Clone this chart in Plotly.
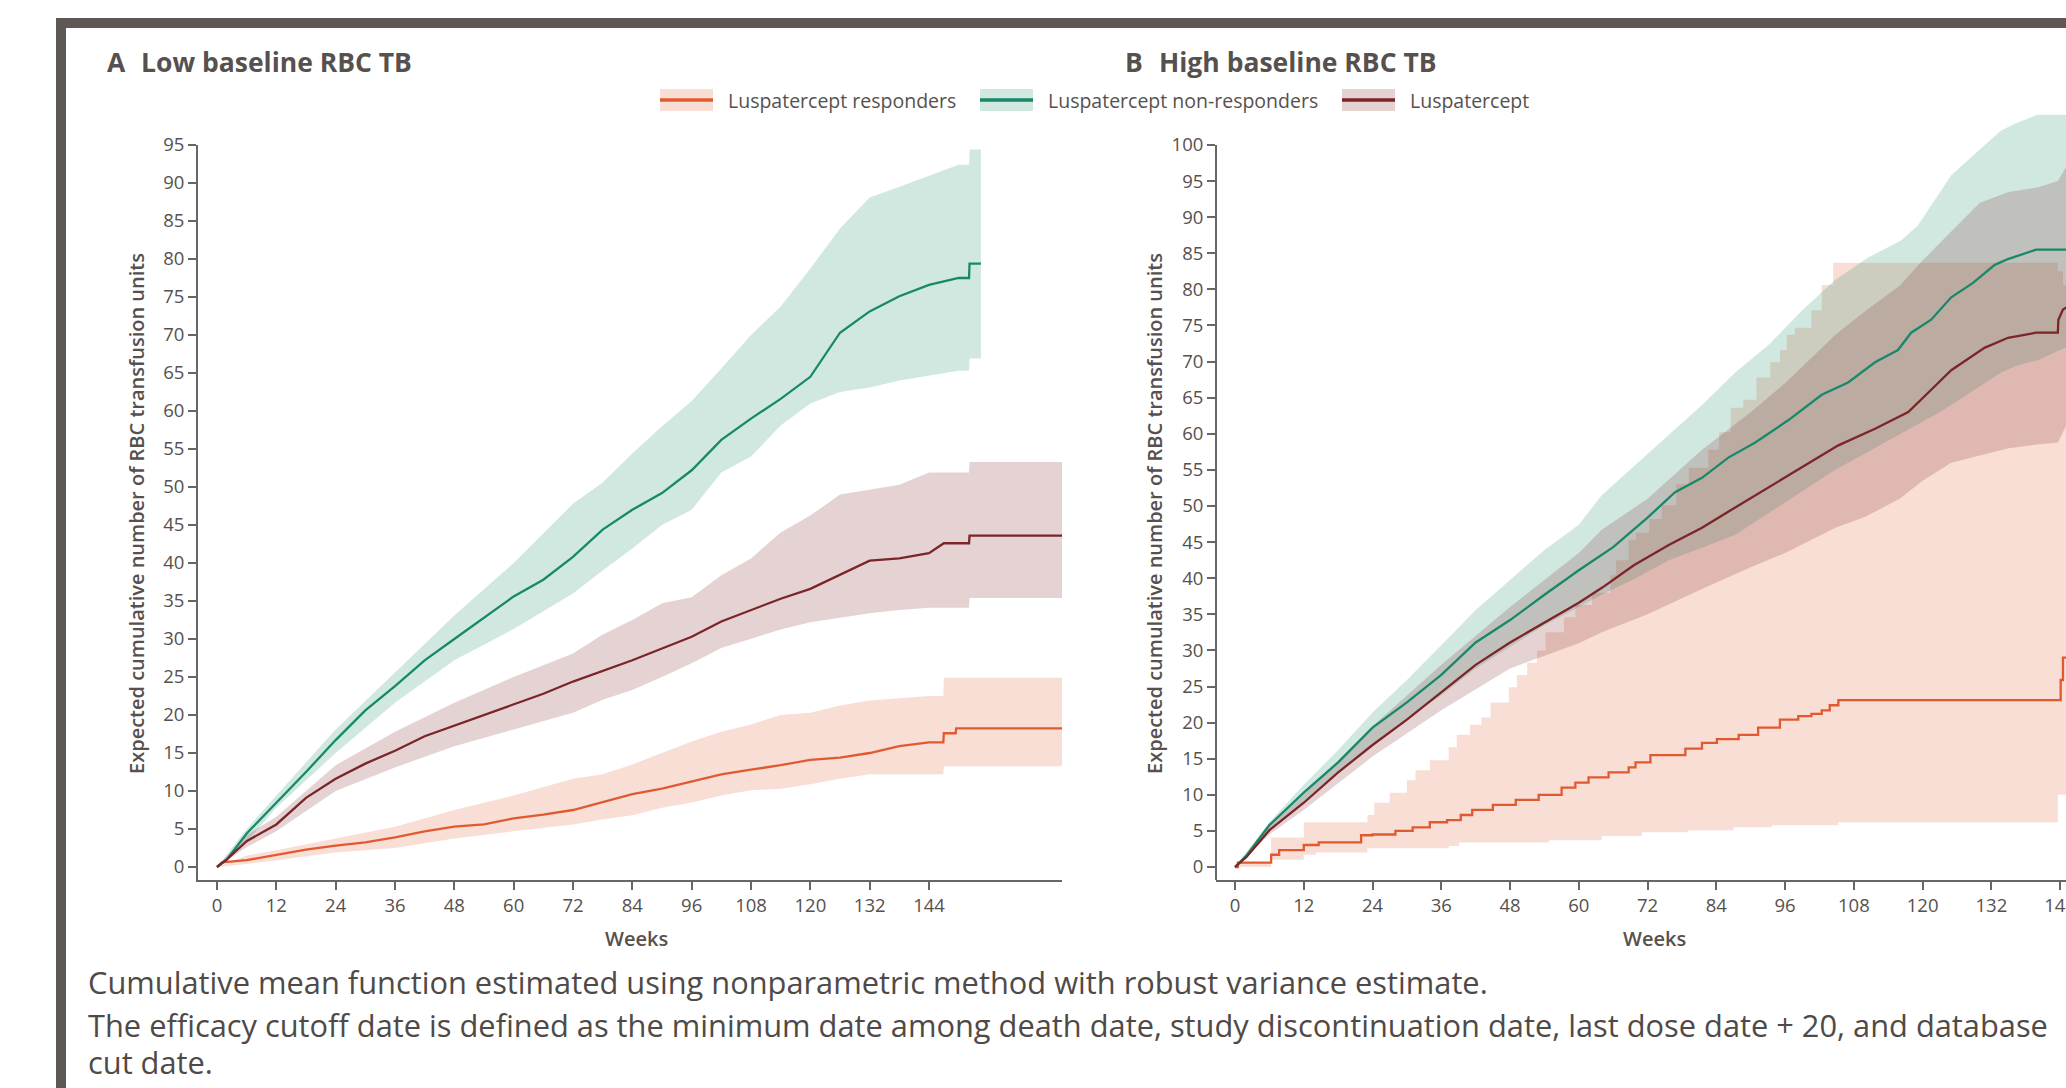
import plotly.graph_objects as go

W, H = 2066, 1088

# ---------------- Panel A: Low baseline RBC TB ----------------
a_nr_weeks = [0, 2, 6, 12, 18, 24, 30, 36, 42, 48, 54, 60, 66, 72, 78, 84, 90, 96, 102, 108, 114, 120, 126, 132, 138, 144, 150, 152.1, 152.2, 154.5]
a_nr_mean = [0, 1.0, 4.4, 8.4, 12.5, 16.7, 20.6, 23.8, 27.2, 30.0, 32.8, 35.6, 37.8, 40.8, 44.4, 47.0, 49.2, 52.2, 56.2, 59.0, 61.6, 64.5, 70.3, 73.1, 75.1, 76.6, 77.5, 77.5, 79.4, 79.4]
a_nr_band_weeks = [0, 6, 12, 24, 36, 48, 60, 72, 78, 84, 90, 96, 102, 108, 114, 120, 126, 132, 138, 144, 150, 152.1, 152.2, 154.5]
a_nr_low = [0, 3.3, 7.8, 15.0, 21.6, 27.2, 31.3, 36.0, 39.0, 41.9, 45.0, 47.0, 51.9, 54.0, 58.1, 61.0, 62.5, 63.1, 64.0, 64.7, 65.3, 65.3, 66.9, 66.9]
a_nr_up = [0, 5.0, 9.4, 18.1, 25.6, 33.1, 40.0, 47.8, 50.6, 54.4, 58.0, 61.3, 65.6, 70.0, 73.75, 78.75, 84.0, 88.1, 89.5, 91.0, 92.4, 92.4, 94.4, 94.4]

a_lu_weeks = [0, 2, 6, 12, 18, 24, 30, 36, 42, 48, 54, 60, 66, 72, 78, 84, 90, 96, 102, 108, 114, 120, 126, 132, 138, 144, 147, 152.1, 152.2, 171]
a_lu_mean = [0, 1.0, 3.4, 5.6, 9.1, 11.6, 13.6, 15.3, 17.2, 18.6, 20.0, 21.3, 22.8, 24.4, 25.75, 27.2, 28.75, 30.3, 32.3, 33.75, 35.3, 36.6, 38.4, 40.3, 40.6, 41.3, 42.6, 42.6, 43.6, 43.6]
a_lu_band_weeks = [0, 6, 12, 24, 36, 48, 60, 72, 78, 84, 90, 96, 102, 108, 114, 120, 126, 132, 138, 144, 152.1, 152.2, 171]
a_lu_up = [0, 4.2, 6.6, 13.4, 17.8, 21.6, 25.0, 28.1, 30.6, 32.5, 34.7, 35.5, 38.4, 40.6, 44.0, 46.25, 49.0, 49.7, 50.3, 51.9, 51.9, 53.3, 53.3]
a_lu_low = [0, 2.6, 4.7, 10.0, 13.1, 15.9, 18.1, 20.3, 22.0, 23.3, 25.0, 26.8, 28.8, 30.0, 31.25, 32.2, 32.8, 33.4, 33.8, 34.1, 34.1, 35.4, 35.4]

a_re_weeks = [0, 1, 6, 12, 18, 24, 30, 36, 42, 48, 54, 60, 66, 72, 78, 84, 90, 96, 102, 108, 114, 120, 126, 132, 138, 144, 146.9, 147, 149.4, 149.5, 171]
a_re_mean = [0, 0.6, 0.9, 1.6, 2.3, 2.8, 3.25, 3.9, 4.7, 5.3, 5.6, 6.4, 6.9, 7.5, 8.6, 9.6, 10.3, 11.3, 12.2, 12.8, 13.4, 14.1, 14.4, 15.0, 15.9, 16.4, 16.4, 17.6, 17.6, 18.25, 18.25]
a_re_band_weeks = [0, 6, 12, 24, 36, 48, 60, 72, 78, 84, 90, 96, 102, 108, 114, 120, 126, 132, 144, 146.9, 147, 171]
a_re_up = [0, 1.5, 2.2, 3.75, 5.3, 7.5, 9.4, 11.6, 12.2, 13.5, 15.0, 16.5, 17.8, 18.75, 20.0, 20.3, 21.25, 21.9, 22.5, 22.5, 24.9, 24.9]
a_re_low = [0, 0.4, 0.9, 1.9, 2.5, 3.75, 4.7, 5.6, 6.25, 6.8, 7.8, 8.5, 9.4, 10.1, 10.3, 10.9, 11.6, 12.2, 12.2, 12.2, 13.25, 13.25]

# ---------------- Panel B: High baseline RBC TB ----------------
b_nr_weeks = [0, 2, 6, 12, 18, 24, 30, 36, 42, 48, 54, 60, 66, 72, 76.8, 81.5, 86.1, 90.8, 96.6, 102.4, 107, 111.7, 115.7, 118, 121.5, 125, 128.8, 132.6, 134.9, 139.8, 145.1]
b_nr_mean = [0, 1.6, 5.8, 10.3, 14.5, 19.3, 22.8, 26.6, 31.1, 34.2, 37.7, 41.1, 44.3, 48.4, 51.9, 53.9, 56.7, 58.8, 61.9, 65.4, 67.1, 69.9, 71.6, 74.0, 75.8, 78.9, 80.9, 83.4, 84.2, 85.5, 85.5]
b_nr_band_weeks = [0, 6, 12, 18, 24, 30, 36, 42, 48, 54, 60, 64, 69.9, 75.7, 81.5, 87.3, 93.1, 99, 104.7, 110.5, 116.3, 119.2, 122.1, 125, 127.9, 130.8, 133.7, 136.6, 140.1, 145.1]
b_nr_up = [0, 6.2, 11.4, 16.2, 21.4, 25.9, 30.7, 35.6, 39.75, 43.9, 47.4, 51.5, 55.7, 59.8, 64.0, 68.5, 72.3, 77.1, 81.3, 84.4, 86.8, 88.9, 92.4, 95.8, 97.9, 100.0, 102.0, 103.1, 104.2, 104.2]
b_nr_low = [0, 5.0, 9.0, 13.0, 17.0, 20.5, 23.8, 27.5, 30.5, 33.5, 36.0, 37.7, 40.0, 42.5, 44.2, 46.0, 49.0, 52.0, 55.0, 57.5, 60.0, 61.3, 62.6, 64.0, 65.5, 67.0, 68.5, 69.5, 70.2, 72.0]

b_lu_weeks = [0, 2, 6, 12, 18, 24, 30, 36, 42, 48, 54, 60, 64.1, 69.6, 75.7, 81.5, 87.3, 93.7, 99.5, 105.3, 111.7, 117.5, 121.5, 125, 130.8, 134.9, 139.8, 143.6, 143.7, 144.5, 145.1]
b_lu_mean = [0, 1.4, 5.1, 8.9, 13.1, 16.9, 20.4, 24.2, 28.0, 31.1, 33.9, 36.6, 38.7, 41.8, 44.6, 47.0, 49.8, 52.9, 55.7, 58.4, 60.7, 63.0, 66.1, 68.8, 71.9, 73.3, 74.0, 74.0, 75.8, 77.2, 77.5]
b_lu_band_weeks = [0, 6, 12, 24, 36, 48, 60, 64, 72, 81.5, 90, 96, 104.8, 110, 116, 120, 125, 130, 135, 140, 143.6, 145.1]
b_lu_up = [0, 5.6, 10.0, 19.5, 28.0, 36.0, 43.5, 46.7, 51.0, 57.8, 63.0, 67.0, 73.7, 77.0, 80.5, 84.0, 88.0, 92.0, 93.5, 94.1, 95.0, 97.0]
b_lu_low = [0, 4.5, 7.9, 15.3, 21.7, 27.5, 31.0, 32.5, 35.0, 38.5, 41.5, 43.5, 47.0, 48.5, 51.0, 53.5, 56.0, 57.0, 58.0, 58.5, 58.8, 61.2]

b_re_weeks = [0, 0.5, 6.3, 7.7, 12, 14.6, 22, 24, 28, 31, 34, 37, 39.4, 41.4, 45, 49, 53, 57, 59.4, 61.7, 65.2, 68.7, 69.9, 72.5, 78.6, 81.5, 84.1, 87.9, 91.3, 95.1, 98.3, 100.6, 102.4, 103.8, 105.3, 144.1, 144.5, 145.1]
b_re_mean = [0, 0.6, 1.7, 2.35, 3.05, 3.4, 4.4, 4.5, 5.0, 5.5, 6.2, 6.5, 7.2, 7.9, 8.6, 9.3, 10.0, 11.0, 11.7, 12.4, 13.1, 13.8, 14.5, 15.5, 16.4, 17.2, 17.7, 18.3, 19.3, 20.4, 20.9, 21.2, 21.7, 22.4, 23.1, 25.9, 29.0, 29.0]
b_re_up_weeks = [0, 0.5, 6.3, 12, 23.1, 24.3, 27, 30, 31.5, 34, 37.3, 38.7, 41, 43, 44.6, 47.8, 49.2, 51, 52.7, 54.2, 57.4, 59.4, 62.3, 65.5, 66.5, 68.7, 70, 72.3, 74.5, 77, 79.2, 82.6, 84.5, 86.5, 88.7, 91, 93.4, 95.1, 96.3, 97.7, 100.6, 102.4, 104.4, 143.6, 144.5, 145.1]
b_re_up = [0, 0.6, 4.1, 6.2, 7.2, 8.9, 10.3, 12.0, 13.4, 14.8, 16.6, 18.3, 19.7, 20.7, 22.8, 24.9, 26.6, 28.3, 30.0, 32.5, 34.6, 36.3, 38.0, 40.4, 42.5, 45.3, 46.3, 48.2, 50.1, 53.0, 55.3, 57.8, 60.2, 63.6, 64.7, 67.8, 69.9, 71.6, 73.7, 74.7, 77.1, 80.6, 83.7, 82.5, 80.6, 80.6]
b_re_low_weeks = [0, 6.3, 12, 14.1, 23.1, 37.3, 39.1, 54.8, 64, 71, 79, 87, 93.7, 105.3, 143.6, 145.1]
b_re_low = [0, 1.0, 1.7, 2.0, 2.6, 2.9, 3.4, 3.7, 4.3, 4.8, 5.1, 5.5, 5.8, 6.2, 10.0, 10.0]

week_ticks = list(range(0, 145, 12))
a_yticks = list(range(0, 96, 5))
b_yticks = list(range(0, 101, 5))

series_names = ["Luspatercept responders", "Luspatercept non-responders", "Luspatercept"]
panel_titles = [("A", "Low baseline RBC TB"), ("B", "High baseline RBC TB")]
y_title = "Expected cumulative number of RBC transfusion units"
x_title = "Weeks"
footer_lines = [
    "Cumulative mean function estimated using nonparametric method with robust variance estimate.",
    "The efficacy cutoff date is defined as the minimum date among death date, study discontinuation date, last dose date + 20, and database",
    "cut date.",
]

# ---------------- styling ----------------
ORANGE, GREEN, BROWN = "#E05A30", "#17896A", "#7B2528"
ORANGE_F = "rgba(225,90,46,0.2)"
GREEN_F = "rgba(27,138,107,0.2)"
BROWN_F = "rgba(123,36,38,0.2)"
TXT = "#56514E"
AX = "#6A6664"
FONT = "Open Sans"
FRAME = "#5E5754"

fig = go.Figure()


def px(x):
    return x / W


def py(y):
    return 1 - y / H


def add_band(xl, lo, xu, up, fill, xa, ya, shape):
    fig.add_trace(go.Scatter(x=xl, y=lo, mode="lines", line=dict(width=0, color=fill, shape=shape),
                             hoverinfo="skip", showlegend=False, xaxis=xa, yaxis=ya))
    fig.add_trace(go.Scatter(x=xu, y=up, mode="lines", line=dict(width=0, color=fill, shape=shape),
                             fill="tonexty", fillcolor=fill, hoverinfo="skip", showlegend=False,
                             xaxis=xa, yaxis=ya))


def add_line(x, y, color, name, xa, ya, shape):
    fig.add_trace(go.Scatter(x=x, y=y, mode="lines", name=name, line=dict(width=2.3, color=color, shape=shape),
                             showlegend=False, xaxis=xa, yaxis=ya))


# Panel A bands & lines
add_band(a_re_band_weeks, a_re_low, a_re_band_weeks, a_re_up, ORANGE_F, "x", "y", "linear")
add_band(a_nr_band_weeks, a_nr_low, a_nr_band_weeks, a_nr_up, GREEN_F, "x", "y", "linear")
add_band(a_lu_band_weeks, a_lu_low, a_lu_band_weeks, a_lu_up, BROWN_F, "x", "y", "linear")
add_line(a_re_weeks, a_re_mean, ORANGE, series_names[0], "x", "y", "linear")
add_line(a_nr_weeks, a_nr_mean, GREEN, series_names[1], "x", "y", "linear")
add_line(a_lu_weeks, a_lu_mean, BROWN, series_names[2], "x", "y", "linear")

# Panel B bands & lines
add_band(b_re_low_weeks, b_re_low, b_re_up_weeks, b_re_up, ORANGE_F, "x2", "y2", "hv")
add_band(b_nr_band_weeks, b_nr_low, b_nr_band_weeks, b_nr_up, GREEN_F, "x2", "y2", "linear")
add_band(b_lu_band_weeks, b_lu_low, b_lu_band_weeks, b_lu_up, BROWN_F, "x2", "y2", "linear")
add_line(b_re_weeks, b_re_mean, ORANGE, series_names[0], "x2", "y2", "hv")
add_line(b_nr_weeks, b_nr_mean, GREEN, series_names[1], "x2", "y2", "linear")
add_line(b_lu_weeks, b_lu_mean, BROWN, series_names[2], "x2", "y2", "linear")

axis_common = dict(showgrid=False, zeroline=False, ticks="outside", ticklen=8, tickwidth=2, tickcolor=AX,
                   linecolor=AX, linewidth=2, tickfont=dict(family=FONT, size=18.5, color=TXT),
                   automargin=False, fixedrange=True)

fig.update_layout(
    width=W, height=H, margin=dict(l=0, r=0, t=0, b=0),
    paper_bgcolor="white", plot_bgcolor="white", showlegend=False,
    font=dict(family=FONT, color=TXT),
    xaxis=dict(domain=[px(198), px(1062)], range=[-3.84, 170.9], tickvals=week_ticks, showline=True,
               anchor="y", **axis_common),
    yaxis=dict(domain=[py(880), py(145)], range=[-1.71, 95], tickvals=a_yticks, showline=True,
               anchor="x", **axis_common),
    xaxis2=dict(domain=[px(1216), 1.0], range=[-3.32, 145.03], tickvals=week_ticks, showline=True,
                anchor="y2", ticklabeloverflow="allow", **axis_common),
    yaxis2=dict(domain=[py(880), py(100)], range=[-1.8, 106.23], tickvals=b_yticks, showline=False,
                anchor="x2", **axis_common),
)

shapes = []
# y-axis line of panel B stops at 100
shapes.append(dict(type="line", xref="x2 domain", yref="y2", x0=0, x1=0, y0=-1.8, y1=100,
                   line=dict(color=AX, width=2)))
# outer frame
shapes.append(dict(type="rect", xref="paper", yref="paper", x0=px(61), x1=1.3, y0=py(23), y1=-0.3,
                   line=dict(color=FRAME, width=10), fillcolor="rgba(0,0,0,0)", layer="above"))
# legend swatches
for (x0, fillc, linec) in [(660, ORANGE_F, ORANGE), (980, GREEN_F, GREEN), (1342, BROWN_F, BROWN)]:
    shapes.append(dict(type="rect", xref="paper", yref="paper", x0=px(x0), x1=px(x0 + 53), y0=py(111), y1=py(89),
                       fillcolor=fillc, line=dict(width=0)))
    shapes.append(dict(type="line", xref="paper", yref="paper", x0=px(x0), x1=px(x0 + 53), y0=py(100), y1=py(100),
                       line=dict(color=linec, width=3.5)))
fig.update_layout(shapes=shapes)

ann = []


def add_text(text, x, y, size, xanchor="left", weight="normal", angle=0, color=TXT):
    ann.append(dict(text=text, x=px(x), y=py(y), xref="paper", yref="paper", xanchor=xanchor, yanchor="middle",
                    showarrow=False, textangle=angle,
                    font=dict(family=FONT, size=size, color=color, weight=weight)))


add_text(panel_titles[0][0], 105, 62, 26.5, weight="bold")
add_text(panel_titles[0][1], 139, 62, 26.5, weight="bold")
add_text(panel_titles[1][0], 1123, 62, 26.5, weight="bold")
add_text(panel_titles[1][1], 1157, 62, 26.5, weight="bold")
add_text(series_names[0], 726, 100, 19.5)
add_text(series_names[1], 1046, 100, 19.5)
add_text(series_names[2], 1408, 100, 19.5)
add_text(y_title, 136, 514, 20, xanchor="center", weight=600, angle=-90)
add_text(y_title, 1154, 514, 20, xanchor="center", weight=600, angle=-90)
add_text(x_title, 636, 938, 20, xanchor="center", weight=600)
add_text(x_title, 1654, 938, 20, xanchor="center", weight=600)
add_text(footer_lines[0], 86, 982, 30.8, color="#4F4A47")
add_text(footer_lines[1], 86, 1025, 30.8, color="#4F4A47")
add_text(footer_lines[2], 86, 1062, 30.8, color="#4F4A47")
fig.update_layout(annotations=ann)

fig.write_html("out.html", config={"displayModeBar": False},
               post_script="document.body.style.margin='0';document.body.style.overflow='hidden';")
